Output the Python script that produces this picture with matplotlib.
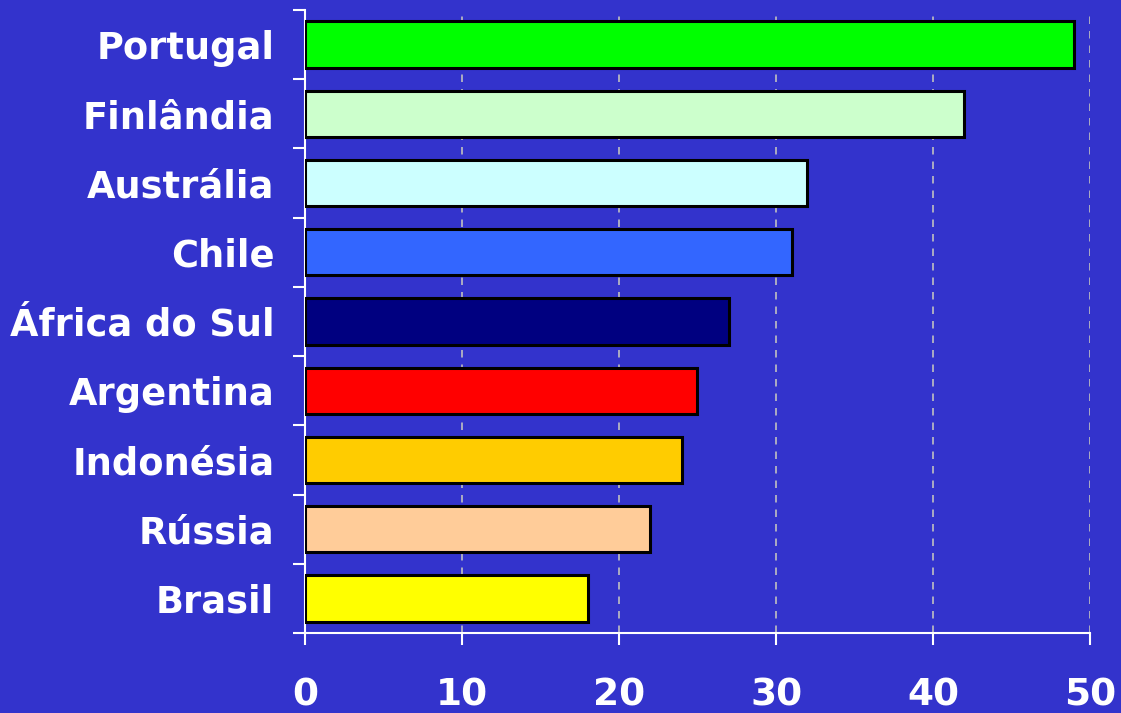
import matplotlib.pyplot as plt
import numpy as np

countries = ["Portugal", "Finlândia", "Austrália", "Chile", "África do Sul",
             "Argentina", "Indonésia", "Rússia", "Brasil"]
values = [49, 42, 32, 31, 27, 25, 24, 22, 18]
colors = ["#00FF00", "#CCFFCC", "#CCFFFF", "#3366FF", "#000080",
          "#FF0000", "#FFCC00", "#FFCC99", "#FFFF00"]
xticks = [0, 10, 20, 30, 40, 50]

BG = "#3333CC"

plt.rcParams["font.family"] = ["DejaVu Sans"]

fig = plt.figure(figsize=(11.21, 7.13), dpi=100, facecolor=BG)
ax = fig.add_axes([0.272, 0.1122, 0.7004, 0.8738], facecolor=BG)

y = np.arange(len(countries))[::-1]
ax.barh(y, values, height=0.67, color=colors, edgecolor="black", linewidth=2.2, zorder=3)

ax.set_xlim(0, 50)
ax.set_ylim(-0.5, len(countries) - 0.5)
ax.set_xticks(xticks)
ax.set_xticklabels([str(t) for t in xticks])
ax.set_yticks(y)
ax.set_yticklabels(countries)
ax.set_yticks(np.arange(-0.5, len(countries), 1), minor=True)

ax.tick_params(axis="y", which="major", length=0, pad=22, labelsize=26.5, labelcolor="white")
ax.tick_params(axis="y", which="minor", length=8.5, width=1.5, color="white", direction="out")
ax.tick_params(axis="x", which="major", length=8.5, width=1.5, color="white", direction="out",
               pad=23.5, labelsize=27, labelcolor="white")
for lbl in ax.get_yticklabels() + ax.get_xticklabels():
    lbl.set_fontweight("bold")

ax.grid(axis="x", color="#C0C0C0", linestyle=(0, (4.5, 4.2)), linewidth=1.2, zorder=0)

ax.spines["top"].set_visible(False)
ax.spines["right"].set_visible(False)
ax.spines["left"].set_color("white")
ax.spines["bottom"].set_color("white")
ax.spines["left"].set_linewidth(1.5)
ax.spines["bottom"].set_linewidth(1.5)

fig.savefig("out.png", dpi=100, facecolor=BG)
